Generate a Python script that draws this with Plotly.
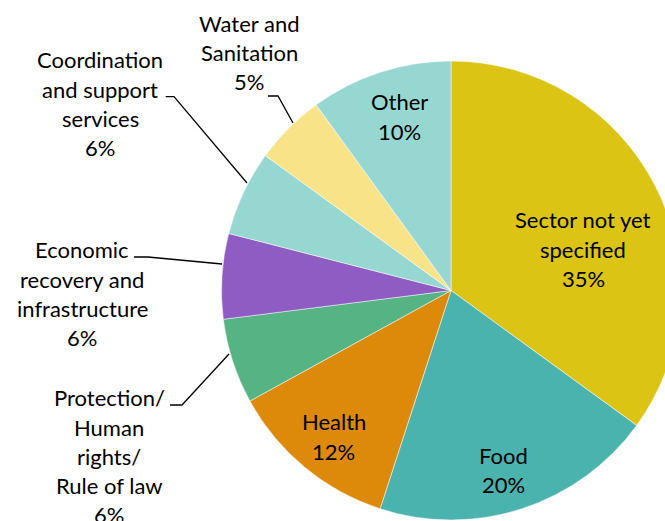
import plotly.graph_objects as go

# ---- data ----
categories = [
    "Sector not yet specified",
    "Food",
    "Health",
    "Protection/ Human rights/ Rule of law",
    "Economic recovery and infrastructure",
    "Coordination and support services",
    "Water and Sanitation",
    "Other",
]
values = [35, 20, 12, 6, 6, 6, 5, 10]
label_lines = [
    ["Sector not yet", "specified"],
    ["Food"],
    ["Health"],
    ["Protection/", "Human", "rights/", "Rule of law"],
    ["Economic", "recovery and", "infrastructure"],
    ["Coordination", "and support", "services"],
    ["Water and", "Sanitation"],
    ["Other"],
]
colors = ["#DBC414", "#4BB3AD", "#DD8909", "#55B384",
          "#8E5CC2", "#96D7D1", "#F8E389", "#96D7D1"]

# ---- layout (pixel geometry of the page) ----
W, H = 700, 560
CX, CY, R = 451, 290.5, 229.5
label_centers = [  # (x, y of first line) in pixels
    (583, 220), (503.5, 455), (333.5, 421.7), (109.5, 397.7),
    (82, 250), (100, 60), (249, 23.3), (399.5, 101.7),
]
LINE = 29.3
leaders = {
    3: [(170, 405), (182, 405), (229, 354)],
    4: [(134, 257), (148, 257), (222, 264)],
    5: [(165.7, 96.7), (174, 96.7), (247, 183)],
    6: [(268, 96), (278, 96), (293, 123)],
}
FONT = "Lato"
FS = 22


def px(x):
    return x / W


def py(y):
    return 1 - y / H


fig = go.Figure(go.Pie(
    labels=categories,
    values=values,
    sort=False,
    direction="clockwise",
    rotation=0,
    textinfo="none",
    hoverinfo="label+percent",
    marker=dict(colors=colors, line=dict(color="white", width=0.5)),
    domain=dict(x=[px(CX - R), px(CX + R)], y=[py(CY + R), py(CY - R)]),
    showlegend=False,
))

annotations = []
for i, (lines, (lx, ly)) in enumerate(zip(label_lines, label_centers)):
    all_lines = lines + [f"{values[i]}%"]
    for j, t in enumerate(all_lines):
        annotations.append(dict(
            x=px(lx), y=py(ly + j * LINE), xref="paper", yref="paper",
            text=t, showarrow=False, xanchor="center", yanchor="middle",
            font=dict(family=FONT, size=FS, color="#000000"),
        ))

shapes = []
for pts in leaders.values():
    path = "M " + " L ".join(f"{px(x)},{py(y)}" for x, y in pts)
    shapes.append(dict(type="path", path=path, xref="paper", yref="paper",
                       line=dict(color="black", width=1.3)))

fig.update_layout(
    width=W, height=H,
    margin=dict(l=0, r=0, t=0, b=0),
    paper_bgcolor="white", plot_bgcolor="white",
    annotations=annotations, shapes=shapes,
)

fig.write_html(
    "out.html",
    config={"displayModeBar": False},
    post_script="document.body.style.margin='0';document.body.style.overflow='hidden';"
                "document.documentElement.style.overflow='hidden';",
)
